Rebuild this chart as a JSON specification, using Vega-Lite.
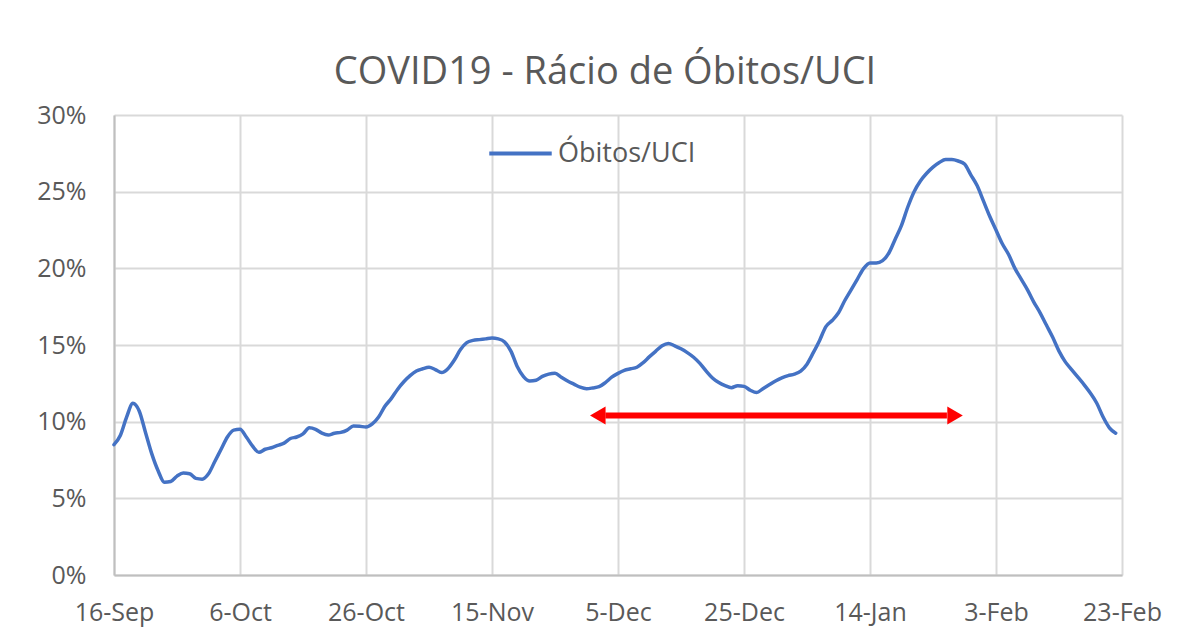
{
  "$schema": "https://vega.github.io/schema/vega-lite/v6.json",
  "autosize": {"type": "none"},
  "width": 1008,
  "height": 460,
  "padding": {"left": 114, "top": 115, "right": 57, "bottom": 58},
  "background": "white",
  "title": {
    "text": "COVID19 - Rácio de Óbitos/UCI",
    "font": "Open Sans",
    "fontSize": 38,
    "fontWeight": "normal",
    "color": "#595959",
    "anchor": "middle",
    "frame": "group",
    "dx": -13,
    "offset": 11
  },
  "config": {
    "view": {"stroke": null},
    "font": "Open Sans"
  },
  "datasets": {
    "series": [
      {"d": "2020-09-16", "v": 8.5}, {"d": "2020-09-17", "v": 9.1}, {"d": "2020-09-18", "v": 10.3}, {"d": "2020-09-19", "v": 11.2},
      {"d": "2020-09-20", "v": 10.7}, {"d": "2020-09-21", "v": 9.3}, {"d": "2020-09-22", "v": 7.9}, {"d": "2020-09-23", "v": 6.8},
      {"d": "2020-09-24", "v": 6.05}, {"d": "2020-09-25", "v": 6.1}, {"d": "2020-09-26", "v": 6.45}, {"d": "2020-09-27", "v": 6.65},
      {"d": "2020-09-28", "v": 6.6}, {"d": "2020-09-29", "v": 6.3}, {"d": "2020-09-30", "v": 6.25},
      {"d": "2020-10-01", "v": 6.6}, {"d": "2020-10-02", "v": 7.4}, {"d": "2020-10-03", "v": 8.2}, {"d": "2020-10-04", "v": 9.0},
      {"d": "2020-10-05", "v": 9.45}, {"d": "2020-10-06", "v": 9.5}, {"d": "2020-10-07", "v": 9.0}, {"d": "2020-10-08", "v": 8.4},
      {"d": "2020-10-09", "v": 8.0}, {"d": "2020-10-10", "v": 8.2}, {"d": "2020-10-11", "v": 8.3}, {"d": "2020-10-12", "v": 8.45},
      {"d": "2020-10-13", "v": 8.6}, {"d": "2020-10-14", "v": 8.9}, {"d": "2020-10-15", "v": 9.0}, {"d": "2020-10-16", "v": 9.2},
      {"d": "2020-10-17", "v": 9.6}, {"d": "2020-10-18", "v": 9.5}, {"d": "2020-10-19", "v": 9.25}, {"d": "2020-10-20", "v": 9.13},
      {"d": "2020-10-21", "v": 9.25}, {"d": "2020-10-22", "v": 9.3}, {"d": "2020-10-23", "v": 9.45}, {"d": "2020-10-24", "v": 9.72},
      {"d": "2020-10-25", "v": 9.7}, {"d": "2020-10-26", "v": 9.65}, {"d": "2020-10-27", "v": 9.85}, {"d": "2020-10-28", "v": 10.3},
      {"d": "2020-10-29", "v": 11.0}, {"d": "2020-10-30", "v": 11.5}, {"d": "2020-10-31", "v": 12.1},
      {"d": "2020-11-01", "v": 12.6}, {"d": "2020-11-02", "v": 13.0}, {"d": "2020-11-03", "v": 13.3}, {"d": "2020-11-04", "v": 13.45},
      {"d": "2020-11-05", "v": 13.55}, {"d": "2020-11-06", "v": 13.4}, {"d": "2020-11-07", "v": 13.2}, {"d": "2020-11-08", "v": 13.45},
      {"d": "2020-11-09", "v": 14.0}, {"d": "2020-11-10", "v": 14.7}, {"d": "2020-11-11", "v": 15.15}, {"d": "2020-11-12", "v": 15.3},
      {"d": "2020-11-13", "v": 15.35}, {"d": "2020-11-14", "v": 15.4}, {"d": "2020-11-15", "v": 15.45}, {"d": "2020-11-16", "v": 15.4},
      {"d": "2020-11-17", "v": 15.2}, {"d": "2020-11-18", "v": 14.6}, {"d": "2020-11-19", "v": 13.6}, {"d": "2020-11-20", "v": 12.94},
      {"d": "2020-11-21", "v": 12.65}, {"d": "2020-11-22", "v": 12.7}, {"d": "2020-11-23", "v": 12.95}, {"d": "2020-11-24", "v": 13.1},
      {"d": "2020-11-25", "v": 13.15}, {"d": "2020-11-26", "v": 12.9}, {"d": "2020-11-27", "v": 12.65}, {"d": "2020-11-28", "v": 12.45},
      {"d": "2020-11-29", "v": 12.25}, {"d": "2020-11-30", "v": 12.15},
      {"d": "2020-12-01", "v": 12.2}, {"d": "2020-12-02", "v": 12.28}, {"d": "2020-12-03", "v": 12.55}, {"d": "2020-12-04", "v": 12.9},
      {"d": "2020-12-05", "v": 13.15}, {"d": "2020-12-06", "v": 13.35}, {"d": "2020-12-07", "v": 13.45}, {"d": "2020-12-08", "v": 13.55},
      {"d": "2020-12-09", "v": 13.85}, {"d": "2020-12-10", "v": 14.24}, {"d": "2020-12-11", "v": 14.6}, {"d": "2020-12-12", "v": 14.95},
      {"d": "2020-12-13", "v": 15.1}, {"d": "2020-12-14", "v": 14.95}, {"d": "2020-12-15", "v": 14.75}, {"d": "2020-12-16", "v": 14.5},
      {"d": "2020-12-17", "v": 14.2}, {"d": "2020-12-18", "v": 13.8}, {"d": "2020-12-19", "v": 13.3}, {"d": "2020-12-20", "v": 12.85},
      {"d": "2020-12-21", "v": 12.55}, {"d": "2020-12-22", "v": 12.35}, {"d": "2020-12-23", "v": 12.22}, {"d": "2020-12-24", "v": 12.35},
      {"d": "2020-12-25", "v": 12.3}, {"d": "2020-12-26", "v": 12.05}, {"d": "2020-12-27", "v": 11.9}, {"d": "2020-12-28", "v": 12.15},
      {"d": "2020-12-29", "v": 12.4}, {"d": "2020-12-30", "v": 12.65}, {"d": "2020-12-31", "v": 12.85},
      {"d": "2021-01-01", "v": 13.0}, {"d": "2021-01-02", "v": 13.1}, {"d": "2021-01-03", "v": 13.3}, {"d": "2021-01-04", "v": 13.75},
      {"d": "2021-01-05", "v": 14.5}, {"d": "2021-01-06", "v": 15.3}, {"d": "2021-01-07", "v": 16.2}, {"d": "2021-01-08", "v": 16.6},
      {"d": "2021-01-09", "v": 17.1}, {"d": "2021-01-10", "v": 17.9}, {"d": "2021-01-11", "v": 18.6}, {"d": "2021-01-12", "v": 19.3},
      {"d": "2021-01-13", "v": 20.0}, {"d": "2021-01-14", "v": 20.35}, {"d": "2021-01-15", "v": 20.35}, {"d": "2021-01-16", "v": 20.5},
      {"d": "2021-01-17", "v": 21.0}, {"d": "2021-01-18", "v": 21.9}, {"d": "2021-01-19", "v": 22.8}, {"d": "2021-01-20", "v": 24.0},
      {"d": "2021-01-21", "v": 25.0}, {"d": "2021-01-22", "v": 25.7}, {"d": "2021-01-23", "v": 26.2}, {"d": "2021-01-24", "v": 26.6},
      {"d": "2021-01-25", "v": 26.9}, {"d": "2021-01-26", "v": 27.1}, {"d": "2021-01-27", "v": 27.1}, {"d": "2021-01-28", "v": 27.0},
      {"d": "2021-01-29", "v": 26.8}, {"d": "2021-01-30", "v": 26.1}, {"d": "2021-01-31", "v": 25.4},
      {"d": "2021-02-01", "v": 24.4}, {"d": "2021-02-02", "v": 23.4}, {"d": "2021-02-03", "v": 22.5}, {"d": "2021-02-04", "v": 21.6},
      {"d": "2021-02-05", "v": 20.9}, {"d": "2021-02-06", "v": 20.0}, {"d": "2021-02-07", "v": 19.3}, {"d": "2021-02-08", "v": 18.6},
      {"d": "2021-02-09", "v": 17.8}, {"d": "2021-02-10", "v": 17.1}, {"d": "2021-02-11", "v": 16.3}, {"d": "2021-02-12", "v": 15.5},
      {"d": "2021-02-13", "v": 14.6}, {"d": "2021-02-14", "v": 13.9}, {"d": "2021-02-15", "v": 13.4}, {"d": "2021-02-16", "v": 12.9},
      {"d": "2021-02-17", "v": 12.4}, {"d": "2021-02-18", "v": 11.85}, {"d": "2021-02-19", "v": 11.2}, {"d": "2021-02-20", "v": 10.3},
      {"d": "2021-02-21", "v": 9.6}, {"d": "2021-02-22", "v": 9.25}
    ],
    "arrow": [
      {"start": "2020-12-03T00:00:00Z", "end": "2021-01-26T05:00:00Z", "v": 10.4}
    ],
    "heads": [
      {"d": "2020-12-01T19:00:00Z", "v": 10.4, "shape": "triangle-left"},
      {"d": "2021-01-27T12:00:00Z", "v": 10.4, "shape": "triangle-right"}
    ]
  },
  "layer": [
    {
      "data": {"name": "series"},
      "transform": [{"calculate": "'Óbitos/UCI'", "as": "series"}],
      "mark": {"type": "line", "strokeWidth": 3.5, "interpolate": "monotone", "strokeCap": "round", "strokeJoin": "round"},
      "encoding": {
        "x": {
          "field": "d", "type": "temporal",
          "scale": {"type": "utc", "domain": [{"year": 2020, "month": 9, "date": 16, "utc": true}, {"year": 2021, "month": 2, "date": 23, "utc": true}]},
          "axis": {
            "title": null,
            "values": [
              {"year": 2020, "month": 9, "date": 16, "utc": true},
              {"year": 2020, "month": 10, "date": 6, "utc": true},
              {"year": 2020, "month": 10, "date": 26, "utc": true},
              {"year": 2020, "month": 11, "date": 15, "utc": true},
              {"year": 2020, "month": 12, "date": 5, "utc": true},
              {"year": 2020, "month": 12, "date": 25, "utc": true},
              {"year": 2021, "month": 1, "date": 14, "utc": true},
              {"year": 2021, "month": 2, "date": 3, "utc": true},
              {"year": 2021, "month": 2, "date": 23, "utc": true}
            ],
            "labelExpr": "utcFormat(datum.value, '%-d-%b')",
            "labelFont": "Open Sans",
            "labelFontSize": 25,
            "labelColor": "#595959",
            "labelPadding": 25,
            "labelFlush": false,
            "labelOverlap": false,
            "ticks": false,
            "grid": true,
            "gridColor": "#d9d9d9",
            "gridWidth": 2,
            "domain": true,
            "domainColor": "#bfbfbf",
            "domainWidth": 2
          }
        },
        "y": {
          "field": "v", "type": "quantitative",
          "scale": {"domain": [0, 30], "nice": false},
          "axis": {
            "title": null,
            "values": [0, 5, 10, 15, 20, 25, 30],
            "labelExpr": "datum.value + '%'",
            "labelFont": "Open Sans",
            "labelFontSize": 25,
            "labelColor": "#595959",
            "labelPadding": 28,
            "ticks": false,
            "grid": true,
            "gridColor": "#d9d9d9",
            "gridWidth": 2,
            "domain": true,
            "domainColor": "#bfbfbf",
            "domainWidth": 2
          }
        },
        "color": {
          "field": "series", "type": "nominal",
          "scale": {"range": ["#4472C4"]},
          "legend": {
            "title": null,
            "orient": "none",
            "legendX": 373,
            "legendY": 5,
            "symbolType": "stroke",
            "symbolStrokeWidth": 4,
            "symbolSize": 3900,
            "labelFont": "Open Sans",
            "labelFontSize": 27,
            "labelColor": "#595959",
            "labelOffset": 4,
            "padding": 0
          }
        }
      }
    },
    {
      "data": {"name": "arrow"},
      "mark": {"type": "rule", "color": "#ff0000", "strokeWidth": 6},
      "encoding": {
        "x": {"field": "start", "type": "temporal"},
        "x2": {"field": "end"},
        "y": {"field": "v", "type": "quantitative"}
      }
    },
    {
      "data": {"name": "heads"},
      "mark": {"type": "point", "filled": true, "color": "#ff0000", "opacity": 1, "size": 320},
      "encoding": {
        "x": {"field": "d", "type": "temporal"},
        "y": {"field": "v", "type": "quantitative"},
        "shape": {"field": "shape", "type": "nominal", "scale": null, "legend": null}
      }
    }
  ]
}
